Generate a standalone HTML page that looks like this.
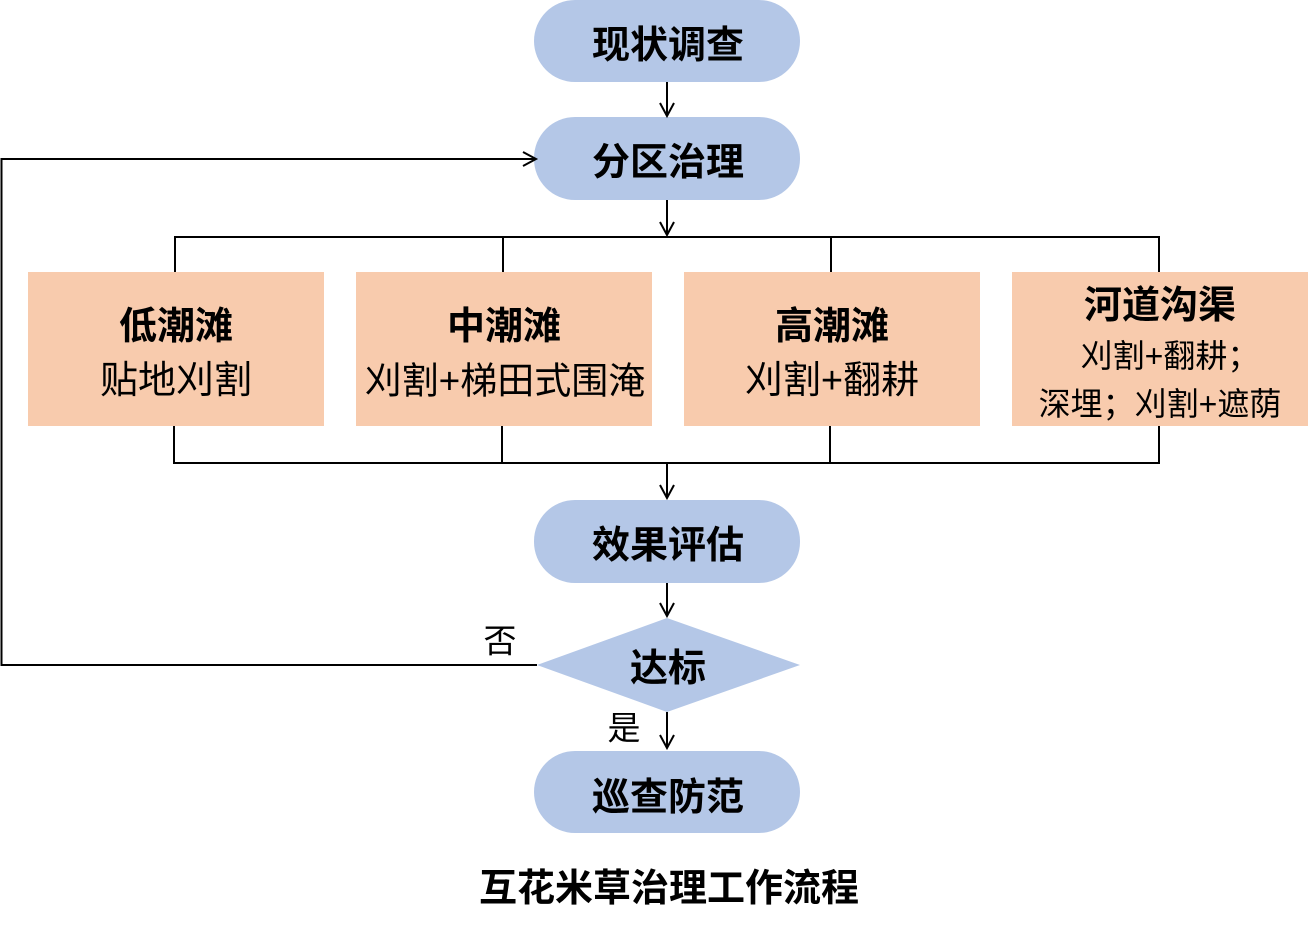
<!DOCTYPE html>
<html>
<head>
<meta charset="utf-8">
<style>
  html, body { margin:0; padding:0; background:#ffffff; }
  svg { display:block; }
  text { font-family: "Liberation Sans", "Noto Sans CJK SC", sans-serif; fill:#000; }
  .b { font-weight:bold; }
</style>
</head>
<body>
<svg width="1308" height="931" viewBox="0 0 1308 931" xmlns="http://www.w3.org/2000/svg">
  <!-- terminals -->
  <rect x="534" y="0" width="266" height="82" rx="41" ry="41" fill="#b4c7e7"/>
  <rect x="534" y="117" width="266" height="83" rx="41" ry="41" fill="#b4c7e7"/>
  <rect x="534" y="500" width="266" height="83" rx="41" ry="41" fill="#b4c7e7"/>
  <rect x="534" y="751" width="266" height="82" rx="41" ry="41" fill="#b4c7e7"/>
  <!-- diamond -->
  <polygon points="667,618 800,665 667,712 537,665" fill="#b4c7e7"/>

  <!-- boxes -->
  <rect x="28" y="272" width="296" height="154" fill="#f8cbad"/>
  <rect x="356" y="272" width="296" height="154" fill="#f8cbad"/>
  <rect x="684" y="272" width="296" height="154" fill="#f8cbad"/>
  <rect x="1012" y="272" width="296" height="154" fill="#f8cbad"/>

  <g stroke="#000" stroke-width="2" fill="none">
    <line x1="667" y1="82" x2="667" y2="116"/>
    <polyline points="660,103 667,116 674,103"/>
    <line x1="667" y1="200" x2="667" y2="235"/>
    <polyline points="660,222 667,235 674,222"/>
    <line x1="174" y1="237" x2="1160" y2="237"/>
    <line x1="175" y1="237" x2="175" y2="272"/>
    <line x1="503" y1="237" x2="503" y2="272"/>
    <line x1="831" y1="237" x2="831" y2="272"/>
    <line x1="1159" y1="237" x2="1159" y2="272"/>
    <line x1="174" y1="426" x2="174" y2="463"/>
    <line x1="502" y1="426" x2="502" y2="463"/>
    <line x1="830" y1="426" x2="830" y2="463"/>
    <line x1="1159" y1="426" x2="1159" y2="463"/>
    <line x1="173" y1="463" x2="1160" y2="463"/>
    <line x1="667" y1="463" x2="667" y2="498"/>
    <polyline points="660,485 667,498 674,485"/>
    <line x1="667" y1="583" x2="667" y2="616"/>
    <polyline points="660,603 667,616 674,603"/>
    <line x1="667" y1="712" x2="667" y2="748"/>
    <polyline points="660,735 667,748 674,735"/>
    <polyline points="537,665 1.5,665 1.5,159 536,159"/>
    <polyline points="523,152 536,159 523,166"/>
  </g>

  <!-- terminal texts -->
  <text class="b" x="668" y="46" font-size="38" text-anchor="middle" dominant-baseline="central">现状调查</text>
  <text class="b" x="668" y="163" font-size="38" text-anchor="middle" dominant-baseline="central">分区治理</text>
  <text class="b" x="668" y="546" font-size="38" text-anchor="middle" dominant-baseline="central">效果评估</text>
  <text class="b" x="668" y="669" font-size="38" text-anchor="middle" dominant-baseline="central">达标</text>
  <text class="b" x="668" y="798" font-size="38" text-anchor="middle" dominant-baseline="central">巡查防范</text>

  <!-- box texts -->
  <text class="b" x="176" y="327" font-size="38" text-anchor="middle" dominant-baseline="central">低潮滩</text>
  <text x="176" y="381" font-size="38" text-anchor="middle" dominant-baseline="central">贴地刈割</text>

  <text class="b" x="504" y="327" font-size="38" text-anchor="middle" dominant-baseline="central">中潮滩</text>
  <text x="505" y="381" font-size="37" text-anchor="middle" dominant-baseline="central">刈割+梯田式围淹</text>

  <text class="b" x="832" y="327" font-size="38" text-anchor="middle" dominant-baseline="central">高潮滩</text>
  <text x="832" y="381" font-size="38" text-anchor="middle" dominant-baseline="central">刈割+翻耕</text>

  <text class="b" x="1160" y="306" font-size="38" text-anchor="middle" dominant-baseline="central">河道沟渠</text>
  <text x="1170" y="356" font-size="32" text-anchor="middle" dominant-baseline="central">刈割+翻耕；</text>
  <text x="1160" y="404" font-size="32" text-anchor="middle" dominant-baseline="central">深埋；刈割+遮荫</text>

  <!-- labels -->
  <text x="500" y="641" font-size="33" text-anchor="middle" dominant-baseline="central">否</text>
  <text x="624" y="728" font-size="33" text-anchor="middle" dominant-baseline="central">是</text>

  <!-- caption -->
  <text class="b" x="669" y="889" font-size="38" text-anchor="middle" dominant-baseline="central">互花米草治理工作流程</text>
</svg>
</body>
</html>
